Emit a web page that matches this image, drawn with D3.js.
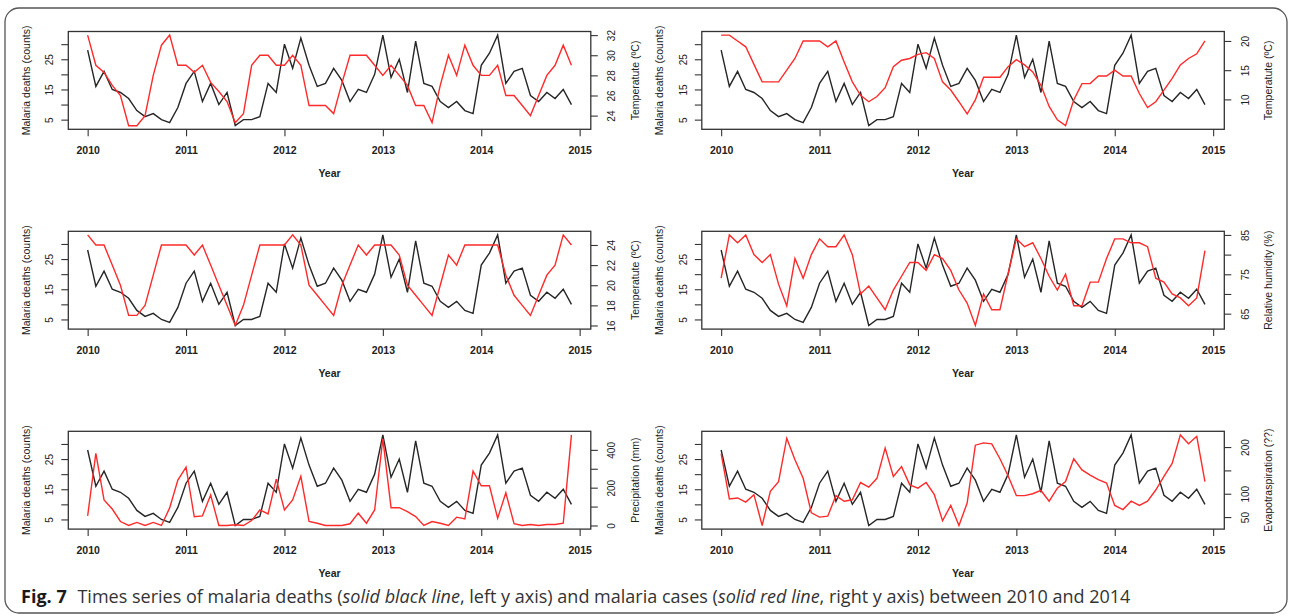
<!DOCTYPE html>
<html>
<head>
<meta charset="utf-8">
<script src="https://cdn.jsdelivr.net/npm/d3@7"></script>
<style>
  body { margin: 0; background: #fff; }
  svg { display: block; }
  text { font-family: "Liberation Sans", Arial, sans-serif; fill: #222; }
</style>
</head>
<body>
<svg id="chart" width="1290" height="616"></svg>
<script>
// monthly series, Jan 2010 .. Dec 2014
const deaths = [28,16,21,15,14,12,8,6,7,5,4,9, 17,21,11,17,10,14,3,5,5,6,17,14,
  30,22,32,23,16,17,22,18,11,15,14,20, 33,19,25,14,31,17,16,11,9,11,8,7,
  23,27,33,17,21,22,13,11,14,12,15,10];
const tempMean = [32,29,28.3,27,26,23,23,24,28,31,32,29, 29,28.3,29,27.3,26.4,25.4,23.3,24.2,29,30,30,29,
  29,30,29,25,25,25,24.2,27.2,30,30,30,29, 28,29,28,27,25,25,23.3,27,30,28,31,29,
  28,28,29,26,26,25,24,26,28,29,31,29];
const tempMin = [21,21,20,19,16,13,13,13,15,17,20,20, 20,19,20,16.4,13,10.7,9.6,10.5,12,15.6,16.7,17,
  17.7,18,17,13,11.6,9.6,7.5,9.9,13.8,13.8,13.8,15.6, 16.8,15.9,14.7,12.4,8.8,6.5,5.5,9.9,12.7,12.7,14,14,
  15,14,14,11,8.6,9.6,11.6,13.6,15.9,17,17.8,20];
const tempMax = [25,24,24,22,20,17,17,18,21,24,24,24, 24,23,24,22,20,18,16,18,21,24,24,24,
  24,25,24,20,19,18,17,20,22,24,23,24, 24,24,23,20,19,18,17,20,23,22,24,24,
  24,24,24,21,19,18,17,19,21,22,25,24];
const humidity = [74,85,83,85,80,78,80,72.5,67,79,74,80, 84,82,82,85,80,70,72,69,66,71,74.5,78,
  78,76,80,79,76,71,67.7,62,70,66,66,75.2, 84,82,83,79,74.5,71,75,67,67,73,73,79,
  84,84,83,83,82,74,73,70,69,67,69,81];
const precip = [51,382,135,87,21,0,16,0,16,0,93,240, 309,46,51,161,0,0,4,0,26,82,61,245,
  82,135,260,21,12,0,0,0,9,65,12,82, 458,94,94,73,47,0,21,12,0,44,35,288,
  210,210,38,173,9,0,5,0,5,5,12,479];
const evapo = [186,89,91,82,98,32,105,126,219,173,133,59, 50,52,96,84,87,124,114,133,198,137,158,119,
  112,124,98,42,75,32,80,204,209,207,175,138, 96,96,100,107,84,112,126,175,151,140,130,123,
  75,66,84,75,84,108,137,165,226,207,223,126];

const yearTicks = [2010, 2011, 2012, 2013, 2014, 2015];
const deathTicks = [5, 10, 15, 20, 25, 30];
const deathLabels = [5, 15, 25];

const panels = [
  { red: tempMean, title: 'Temperatute (ºC)', ticks: [24, 26, 28, 30, 32], labels: [24, 26, 28, 30, 32] },
  { red: tempMin, title: 'Temperatute (ºC)', ticks: [10, 15, 20], labels: [10, 15, 20] },
  { red: tempMax, title: 'Temperatute (ºC)', ticks: [16, 18, 20, 22, 24], labels: [16, 18, 20, 22, 24] },
  { red: humidity, title: 'Relative humidity (%)', ticks: [65, 70, 75, 80, 85], labels: [65, 75, 85] },
  { red: precip, title: 'Precipitation (mm)', ticks: [0, 100, 200, 300, 400], labels: [0, 200, 400] },
  { red: evapo, title: 'Evapotraspiration (??)', ticks: [50, 100, 150, 200], labels: [50, 100, 200] }
];

const months = deaths.map((d, i) => 2010 + i / 12);

const W = 522.5, H = 97.8;
const colX = [68.3, 701.8];
const rowY = [31.5, 231.3, 431.3];

const svg = d3.select('#chart');

// outer frame
svg.append('rect')
  .attr('x', 5).attr('y', 8)
  .attr('width', 1282).attr('height', 605)
  .attr('rx', 14)
  .attr('fill', 'none')
  .attr('stroke', '#555')
  .attr('stroke-width', 1.3);

// R style padding: 4% of the range on each side
function padded(vals) {
  const [lo, hi] = d3.extent(vals);
  const p = (hi - lo) * 0.04;
  return [lo - p, hi + p];
}

const x = d3.scaleLinear().domain(padded(months)).range([0, W]);
const yDeaths = d3.scaleLinear().domain(padded(deaths)).range([H, 0]);

panels.forEach((p, k) => {
  const g = svg.append('g')
    .attr('transform', `translate(${colX[k % 2]}, ${rowY[Math.floor(k / 2)]})`);
  const yRed = d3.scaleLinear().domain(padded(p.red)).range([H, 0]);

  const line = d3.line().x((d, i) => x(months[i]));

  g.append('path')
    .attr('d', line.y(d => yDeaths(d))(deaths))
    .attr('fill', 'none')
    .attr('stroke', '#262626')
    .attr('stroke-width', 1.4);

  g.append('path')
    .attr('d', line.y(d => yRed(d))(p.red))
    .attr('fill', 'none')
    .attr('stroke', '#ff2a2a')
    .attr('stroke-width', 1.4);

  g.append('rect')
    .attr('width', W).attr('height', H)
    .attr('fill', 'none')
    .attr('stroke', '#333')
    .attr('stroke-width', 1.3);

  // bottom axis
  const ax = g.append('g')
    .attr('transform', `translate(0, ${H})`)
    .call(d3.axisBottom(x).tickValues(yearTicks).tickFormat(d3.format('d')).tickSize(7));
  ax.select('.domain').remove();
  ax.selectAll('text')
    .attr('y', 24.5).attr('dy', null)
    .style('font-size', '10.5px')
    .style('font-weight', 'bold')
    .style('fill', '#222');

  // left axis
  const al = g.append('g')
    .call(d3.axisLeft(yDeaths).tickValues(deathTicks)
      .tickFormat(d => deathLabels.includes(d) ? d : '').tickSize(7));
  al.select('.domain').remove();
  al.selectAll('text')
    .attr('x', null).attr('dy', null)
    .attr('text-anchor', 'middle')
    .attr('transform', 'translate(-15,0) rotate(-90)')
    .style('font-size', '10px');

  // right axis
  const ar = g.append('g')
    .attr('transform', `translate(${W}, 0)`)
    .call(d3.axisRight(yRed).tickValues(p.ticks)
      .tickFormat(d => p.labels.includes(d) ? d : '').tickSize(7));
  ar.select('.domain').remove();
  ar.selectAll('text')
    .attr('x', null).attr('dy', null)
    .attr('text-anchor', 'middle')
    .attr('transform', 'translate(24.5,0) rotate(-90)')
    .style('font-size', '10px');

  g.selectAll('.tick line').attr('stroke', '#333').attr('stroke-width', 1.1);

  // titles
  g.append('text')
    .attr('transform', `translate(-38.5, ${H / 2}) rotate(-90)`)
    .attr('text-anchor', 'middle')
    .style('font-size', '10.5px')
    .text('Malaria deaths (counts)');
  g.append('text')
    .attr('transform', `translate(${W + 48}, ${H / 2}) rotate(-90)`)
    .attr('text-anchor', 'middle')
    .style('font-size', '10.5px')
    .text(p.title);
  g.append('text')
    .attr('x', W / 2).attr('y', H + 48)
    .attr('text-anchor', 'middle')
    .style('font-size', '10.5px')
    .style('font-weight', 'bold')
    .text('Year');
});

// caption
const cap = svg.append('text')
  .attr('x', 21).attr('y', 603)
  .style('font-family', '"Open Sans", "Noto Sans", sans-serif')
  .style('font-size', '18.5px');
cap.append('tspan').style('font-weight', 'bold').style('fill', '#1a1a1a').text('Fig. 7');
cap.append('tspan').attr('dx', 11).style('fill', '#333').text('Times series of malaria deaths (');
cap.append('tspan').style('font-style', 'italic').style('fill', '#333').text('solid black line');
cap.append('tspan').style('fill', '#333').text(', left y axis) and malaria cases (');
cap.append('tspan').style('font-style', 'italic').style('fill', '#333').text('solid red line');
cap.append('tspan').style('fill', '#333').text(', right y axis) between 2010 and 2014');

// squeeze the caption to the width seen in the figure
const bw = cap.node().getBBox().width;
const target = 1111;
cap.attr('transform', `translate(21,0) scale(${target / bw},1) translate(-21,0)`);
</script>
</body>
</html>
